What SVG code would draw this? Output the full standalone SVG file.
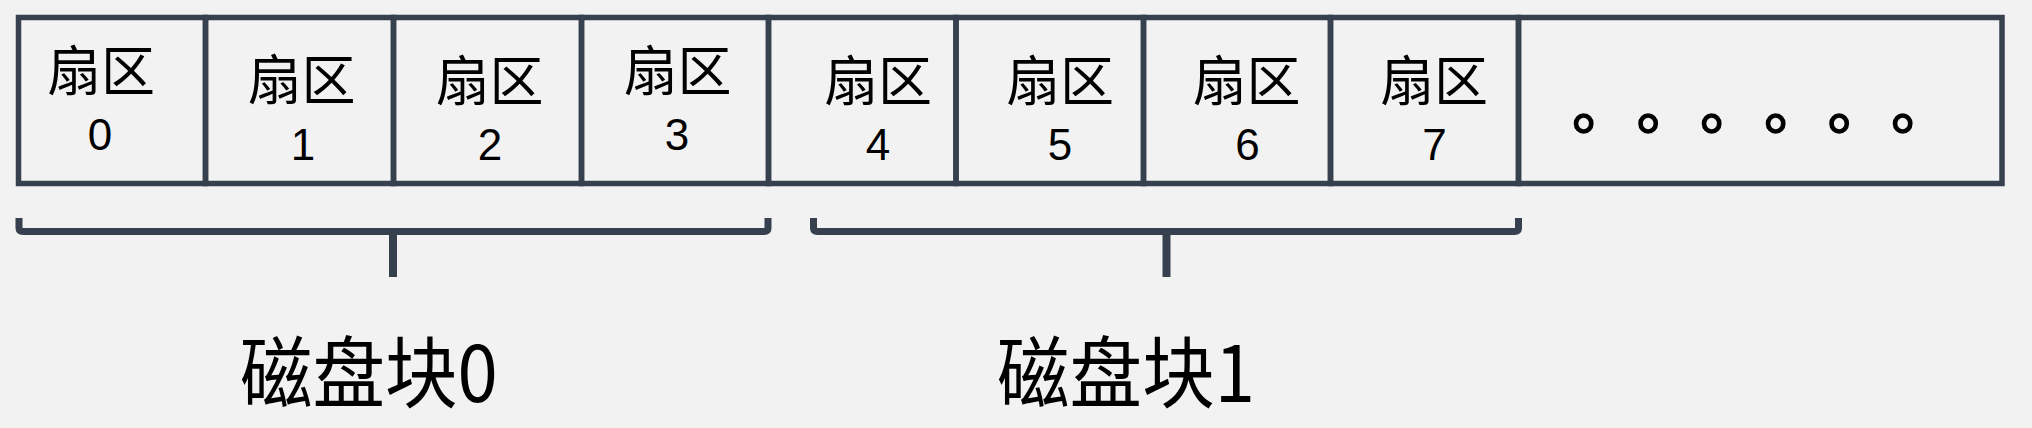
<svg xmlns="http://www.w3.org/2000/svg" width="2032" height="428" viewBox="0 0 2032 428">
<style>
.bg{fill:#F2F2F2}
.cell{fill:none;stroke:#36404F;stroke-width:5.5}
.lbl{font-family:"Noto Sans CJK SC","Noto Sans",sans-serif;fill:#000;text-anchor:middle}
.cjk{font-size:54px}
.num{font-family:"Liberation Sans",Arial,sans-serif;font-size:44px}
.big{font-size:78px}
.brace{fill:none;stroke:#36404F;stroke-width:7;stroke-linejoin:round}
.stem{fill:none;stroke:#36404F;stroke-width:8}
.dots{font-family:"Noto Sans CJK SC",sans-serif;font-size:60px;fill:#000;stroke:#000;stroke-width:1.6}
</style>
<rect class="bg" x="0" y="0" width="2032" height="428"/>
<g id="sector0"><rect class="cell" x="18.5" y="17.5" width="187" height="166"/><text class="lbl"><tspan class="cjk" x="101" y="91">扇区</tspan><tspan class="num" x="100" y="150">0</tspan></text></g>
<g id="sector1"><rect class="cell" x="205.5" y="17.5" width="188" height="166"/><text class="lbl"><tspan class="cjk" x="301.5" y="100">扇区</tspan><tspan class="num" x="303" y="160">1</tspan></text></g>
<g id="sector2"><rect class="cell" x="393.5" y="17.5" width="188" height="166"/><text class="lbl"><tspan class="cjk" x="489.5" y="101">扇区</tspan><tspan class="num" x="490" y="160">2</tspan></text></g>
<g id="sector3"><rect class="cell" x="581.5" y="17.5" width="187" height="166"/><text class="lbl"><tspan class="cjk" x="677.5" y="91">扇区</tspan><tspan class="num" x="677" y="150">3</tspan></text></g>
<g id="sector4"><rect class="cell" x="768.5" y="17.5" width="187.5" height="166"/><text class="lbl"><tspan class="cjk" x="878" y="101">扇区</tspan><tspan class="num" x="878" y="160">4</tspan></text></g>
<g id="sector5"><rect class="cell" x="956" y="17.5" width="187.5" height="166"/><text class="lbl"><tspan class="cjk" x="1060" y="101">扇区</tspan><tspan class="num" x="1060" y="160">5</tspan></text></g>
<g id="sector6"><rect class="cell" x="1143.5" y="17.5" width="187" height="166"/><text class="lbl"><tspan class="cjk" x="1246.5" y="101">扇区</tspan><tspan class="num" x="1247.5" y="160">6</tspan></text></g>
<g id="sector7"><rect class="cell" x="1330.5" y="17.5" width="188" height="166"/><text class="lbl"><tspan class="cjk" x="1434" y="101">扇区</tspan><tspan class="num" x="1434.5" y="160">7</tspan></text></g>
<g id="more"><rect class="cell" x="1518.5" y="17.5" width="483.5" height="166"/><text class="dots" x="1572 1636.5 1700 1764 1827.5 1891" y="129">。。。。。。</text></g>
<g id="connectors">
<path class="brace" d="M19 218 V228 Q19 231.5 23 231.5 H764 Q768 231.5 768 228 V218"/>
<path class="stem" d="M393 231 V277"/>
<path class="brace" d="M813.5 218 V228 Q813.5 231.5 817.5 231.5 H1514.5 Q1518.5 231.5 1518.5 228 V218"/>
<path class="stem" d="M1166.5 231 V277"/>
</g>
<g id="block0"><text class="lbl big" transform="translate(368.8,402) scale(0.93,1)">磁盘块0</text></g>
<g id="block1"><text class="lbl big" transform="translate(1126,402) scale(0.93,1)">磁盘块1</text></g>
</svg>
